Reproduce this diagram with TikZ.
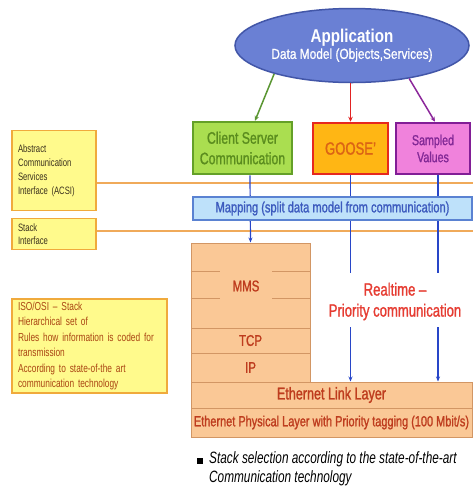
\documentclass[tikz,border=0pt]{standalone}
\usepackage{fontspec}
\setmainfont{Liberation Sans}[FakeStretch=0.82]
\newfontfamily\lbl{Liberation Sans}[FakeStretch=0.74, FakeBold=1.2, Ligatures=TeX]
\newfontfamily\semi{Liberation Sans}[FakeStretch=0.82, FakeBold=0.8, Ligatures=TeX]
\newfontfamily\plain{Liberation Sans}[FakeStretch=0.72, Ligatures=TeX]
\usetikzlibrary{shapes.geometric,arrows.meta}
\definecolor{appfill}{RGB}{106,128,212}
\definecolor{appdraw}{RGB}{66,86,168}
\definecolor{csfill}{RGB}{170,222,80}
\definecolor{csdraw}{RGB}{100,160,40}
\definecolor{cstext}{RGB}{90,140,30}
\definecolor{gofill}{RGB}{255,182,20}
\definecolor{godraw}{RGB}{230,40,30}
\definecolor{gotext}{RGB}{220,100,20}
\definecolor{svfill}{RGB}{240,130,220}
\definecolor{svdraw}{RGB}{130,30,150}
\definecolor{svtext}{RGB}{130,40,150}
\definecolor{mapfill}{RGB}{190,225,250}
\definecolor{mapdraw}{RGB}{90,130,210}
\definecolor{maptext}{RGB}{60,90,190}
\definecolor{stfill}{RGB}{250,200,150}
\definecolor{stdraw}{RGB}{210,150,100}
\definecolor{sttext}{RGB}{190,60,30}
\definecolor{yfill}{RGB}{255,250,140}
\definecolor{ydraw}{RGB}{240,170,60}
\definecolor{ytext}{RGB}{60,50,30}
\definecolor{isotext}{RGB}{170,70,20}
\definecolor{oline}{RGB}{240,170,90}
\definecolor{bline}{RGB}{40,70,200}
\definecolor{rttext}{RGB}{230,60,50}
\definecolor{greenarr}{RGB}{90,150,50}
\definecolor{redarr}{RGB}{225,35,35}
\definecolor{purparr}{RGB}{140,40,155}
\begin{document}
\begin{tikzpicture}[x=1pt,y=-1pt,
  proto/.style={draw, line width=2.5pt, inner sep=0pt, align=center},
  stackbox/.style={draw=stdraw, fill=stfill, line width=1pt, inner sep=0pt, text=sttext},
  yellowbox/.style={draw=ydraw, fill=yfill, line width=1.5pt, inner xsep=6pt, inner ysep=0pt, align=left},
  orangeline/.style={draw=oline, line width=2pt},
  blueline/.style={draw=bline, line width=1.2pt},
  bluearrow/.style={blueline, -{Stealth[length=5pt,width=4pt]}},
  toparrow/.style={line width=1.5pt, -{Stealth[length=5pt,width=4.5pt]}}
]
\useasboundingbox (0,0) rectangle (473,491);
\fill[white] (0,0) rectangle (473,491);

% application ellipse
\node[ellipse, draw=appdraw, fill=appfill, line width=1.5pt, minimum width=234pt, minimum height=74pt, inner sep=0pt, align=center, text=white] (app) at (352,45.5)
  {{\fontsize{18.5}{21}\selectfont\bfseries Application}\\[1pt]{\semi\fontsize{14.5}{16}\selectfont Data Model (Objects,Services)}};

% protocol boxes
\node[proto, draw=csdraw, fill=csfill, text=cstext, minimum width=99pt, minimum height=52pt, font=\lbl\fontsize{16.6}{20.5}\selectfont] (cs) at (242.5,148) {Client Server\\Communication};
\node[proto, draw=godraw, fill=gofill, text=gotext, minimum width=75pt, minimum height=51pt, font=\lbl\fontsize{17.7}{19}\selectfont] (goose) at (350.5,148.5) {GOOSE'};
\node[proto, draw=svdraw, fill=svfill, text=svtext, minimum width=74pt, minimum height=51pt, font=\lbl\fontsize{14.4}{17}\selectfont] (sv) at (433,148.5) {Sampled\\Values};

% left boxes
\node[yellowbox, text=ytext, text width=72pt, minimum height=80pt, font=\plain\fontsize{10.7}{14}\selectfont] (acsi) at (54,170.5) {Abstract\\Communication\\Services\\Interface (ACSI)};
\node[yellowbox, text=ytext, text width=72pt, minimum height=31pt, font=\plain\fontsize{10.7}{13}\selectfont] (stif) at (54,234) {Stack\\Interface};
\node[yellowbox, text=isotext, text width=143pt, minimum height=94pt, font=\plain\fontsize{11.6}{15.4}\selectfont] (iso) at (89.5,346) {ISO/OSI – Stack\\Hierarchical set of\\Rules how information is coded for\\transmission\\According to state-of-the art\\communication technology};

% interface lines
\coordinate (rightedge) at (473,0);
\draw[orangeline] (acsi.east |- 0,183) -- (rightedge |- 0,183);
\draw[orangeline] (stif.east |- 0,231) -- (rightedge |- 0,231);

% stack
\node[stackbox, minimum width=119pt, minimum height=139pt] (mms) at (250.5,312.5) {};
\node[stackbox, minimum width=119pt, minimum height=25pt, font=\lbl\fontsize{15.5}{17}\selectfont] (tcp) at (250.5,340.5) {TCP};
\node[stackbox, minimum width=119pt, minimum height=29pt, font=\lbl\fontsize{15.5}{17}\selectfont] (ip) at (250.5,367.5) {IP};
\node[text=sttext, font=\lbl\fontsize{15.5}{17}\selectfont] (mmslabel) at (246,286) {MMS};
\draw[stdraw, line width=1pt] (mms.west |- 0,271) -- (220,271) (272,271) -- (mms.east |- 0,271);
\draw[stdraw, line width=1pt] (mms.west |- 0,298) -- (220,298) (272,298) -- (mms.east |- 0,298);
\node[stackbox, minimum width=281pt, minimum height=26pt, font=\lbl\fontsize{17}{19}\selectfont] (eth) at (331.5,395) {Ethernet Link Layer};
\node[stackbox, minimum width=281pt, minimum height=29pt, font=\lbl\fontsize{14.8}{16}\selectfont] (phy) at (331.5,422.5) {Ethernet Physical Layer with Priority tagging (100 Mbit/s)};

% realtime label
\node[text=rttext, align=center, font=\lbl\fontsize{17.7}{21}\selectfont] (rt) at (395,301.5) {Realtime –\\Priority communication};
\coordinate (gapa) at (0,273);
\coordinate (gapb) at (0,327);

% top arrows
\draw[toparrow, greenarr] (app.200) -- ([xshift=12.5pt]cs.north);
\draw[toparrow, redarr] (app.south -| goose.north) -- (goose.north);
\draw[toparrow, purparr] (app.-30) -- ([xshift=2pt]sv.north);

% blue connectors
\draw[bluearrow] ([xshift=7.5pt]cs.south) -- (mms.north);
\draw[blueline] (goose.south) -- (goose.south |- gapa);
\draw[bluearrow] (goose.south |- gapb) -- (goose.south |- eth.north);
\draw[blueline] ([xshift=5pt]sv.south) -- ([xshift=5pt]sv.south |- gapa);
\draw[bluearrow] ([xshift=5pt]sv.south |- gapb) -- ([xshift=5pt]sv.south |- eth.north);

% mapping
\node[draw=mapdraw, fill=mapfill, line width=1.2pt, text=maptext, minimum width=279pt, minimum height=23pt, inner sep=0pt, font=\lbl\fontsize{15}{16}\selectfont] (map) at (332.5,208.5) {Mapping (split data model from communication)};

% bottom note
\node[fill=black, minimum size=6pt, inner sep=0pt] (bullet) at (200,461) {};
\node[anchor=north west, align=left, inner sep=0pt, font=\plain\fontsize{16.4}{19}\selectfont\itshape] (note) at (209,451) {Stack selection according to the state-of-the-art\\Communication technology};
\end{tikzpicture}
\end{document}
